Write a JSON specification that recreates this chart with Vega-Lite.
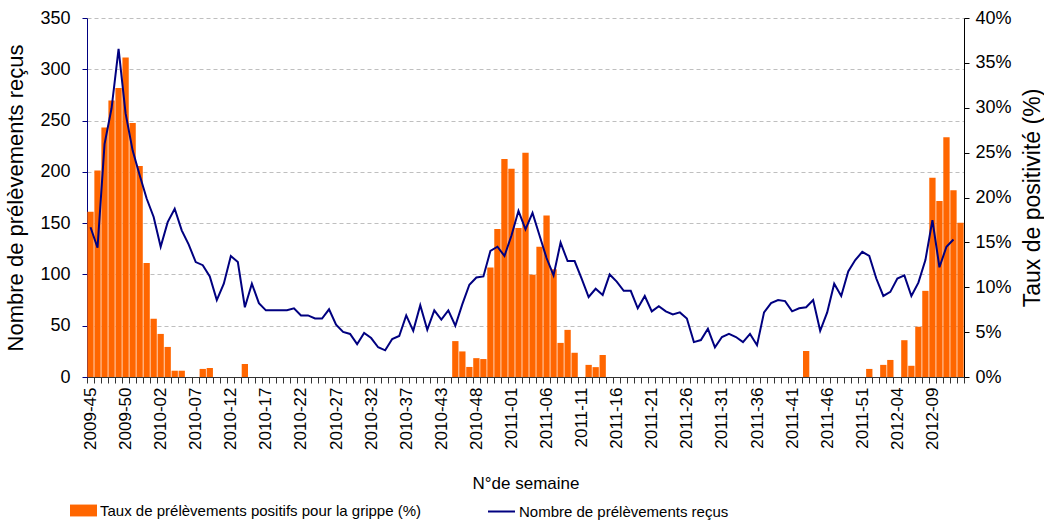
{
  "$schema": "https://vega.github.io/schema/vega-lite/v6.json",
  "width": 877,
  "height": 359,
  "autosize": {"type": "none"},
  "padding": {"left": 87, "top": 18, "right": 80, "bottom": 144},
  "background": "white",
  "config": {
    "font": "Liberation Sans",
    "view": {"stroke": null},
    "axis": {"labelColor": "black", "titleColor": "black", "titleFontWeight": "normal", "labelFont": "Liberation Sans", "titleFont": "Liberation Sans"},
    "legend": {"labelFont": "Liberation Sans", "labelColor": "black"}
  },
  "data": {
    "values": [
      {"semaine": "2009-45", "taux": 18.4, "nombre": 146},
      {"semaine": "2009-46", "taux": 23.0, "nombre": 126},
      {"semaine": "2009-47", "taux": 27.8, "nombre": 227},
      {"semaine": "2009-48", "taux": 30.8, "nombre": 262},
      {"semaine": "2009-49", "taux": 32.2, "nombre": 320},
      {"semaine": "2009-50", "taux": 35.6, "nombre": 257},
      {"semaine": "2009-51", "taux": 28.3, "nombre": 221},
      {"semaine": "2009-52", "taux": 23.5, "nombre": 197},
      {"semaine": "2009-53", "taux": 12.7, "nombre": 174},
      {"semaine": "2010-01", "taux": 6.5, "nombre": 156},
      {"semaine": "2010-02", "taux": 4.8, "nombre": 127},
      {"semaine": "2010-03", "taux": 3.35, "nombre": 151},
      {"semaine": "2010-04", "taux": 0.7, "nombre": 164},
      {"semaine": "2010-05", "taux": 0.7, "nombre": 143},
      {"semaine": "2010-06", "taux": 0, "nombre": 129},
      {"semaine": "2010-07", "taux": 0, "nombre": 112},
      {"semaine": "2010-08", "taux": 0.9, "nombre": 109},
      {"semaine": "2010-09", "taux": 1.0, "nombre": 98},
      {"semaine": "2010-10", "taux": 0, "nombre": 75},
      {"semaine": "2010-11", "taux": 0, "nombre": 91},
      {"semaine": "2010-12", "taux": 0, "nombre": 118},
      {"semaine": "2010-13", "taux": 0, "nombre": 112},
      {"semaine": "2010-14", "taux": 1.45, "nombre": 68},
      {"semaine": "2010-15", "taux": 0, "nombre": 91},
      {"semaine": "2010-16", "taux": 0, "nombre": 72},
      {"semaine": "2010-17", "taux": 0, "nombre": 65},
      {"semaine": "2010-18", "taux": 0, "nombre": 65},
      {"semaine": "2010-19", "taux": 0, "nombre": 65},
      {"semaine": "2010-20", "taux": 0, "nombre": 65},
      {"semaine": "2010-21", "taux": 0, "nombre": 67},
      {"semaine": "2010-22", "taux": 0, "nombre": 60},
      {"semaine": "2010-23", "taux": 0, "nombre": 60},
      {"semaine": "2010-24", "taux": 0, "nombre": 57},
      {"semaine": "2010-25", "taux": 0, "nombre": 57},
      {"semaine": "2010-26", "taux": 0, "nombre": 66},
      {"semaine": "2010-27", "taux": 0, "nombre": 51},
      {"semaine": "2010-28", "taux": 0, "nombre": 44},
      {"semaine": "2010-29", "taux": 0, "nombre": 42},
      {"semaine": "2010-30", "taux": 0, "nombre": 32},
      {"semaine": "2010-31", "taux": 0, "nombre": 43},
      {"semaine": "2010-32", "taux": 0, "nombre": 38},
      {"semaine": "2010-33", "taux": 0, "nombre": 29},
      {"semaine": "2010-34", "taux": 0, "nombre": 26},
      {"semaine": "2010-35", "taux": 0, "nombre": 37},
      {"semaine": "2010-36", "taux": 0, "nombre": 40},
      {"semaine": "2010-37", "taux": 0, "nombre": 60},
      {"semaine": "2010-38", "taux": 0, "nombre": 45},
      {"semaine": "2010-39", "taux": 0, "nombre": 70},
      {"semaine": "2010-41", "taux": 0, "nombre": 46},
      {"semaine": "2010-42", "taux": 0, "nombre": 65},
      {"semaine": "2010-43", "taux": 0, "nombre": 56},
      {"semaine": "2010-44", "taux": 0, "nombre": 65},
      {"semaine": "2010-45", "taux": 4.0, "nombre": 50},
      {"semaine": "2010-46", "taux": 2.85, "nombre": 71},
      {"semaine": "2010-47", "taux": 1.12, "nombre": 90},
      {"semaine": "2010-48", "taux": 2.1, "nombre": 97},
      {"semaine": "2010-49", "taux": 2.0, "nombre": 98},
      {"semaine": "2010-50", "taux": 12.2, "nombre": 123},
      {"semaine": "2010-51", "taux": 16.5, "nombre": 127},
      {"semaine": "2010-52", "taux": 24.3, "nombre": 118},
      {"semaine": "2011-01", "taux": 23.2, "nombre": 138},
      {"semaine": "2011-02", "taux": 16.6, "nombre": 162},
      {"semaine": "2011-03", "taux": 25.0, "nombre": 144},
      {"semaine": "2011-04", "taux": 11.4, "nombre": 160},
      {"semaine": "2011-05", "taux": 14.5, "nombre": 138},
      {"semaine": "2011-06", "taux": 18.0, "nombre": 116},
      {"semaine": "2011-07", "taux": 12.0, "nombre": 99},
      {"semaine": "2011-08", "taux": 3.8, "nombre": 131},
      {"semaine": "2011-09", "taux": 5.25, "nombre": 113},
      {"semaine": "2011-10", "taux": 2.7, "nombre": 113},
      {"semaine": "2011-11", "taux": 0, "nombre": 96},
      {"semaine": "2011-12", "taux": 1.35, "nombre": 78},
      {"semaine": "2011-13", "taux": 1.1, "nombre": 86},
      {"semaine": "2011-14", "taux": 2.45, "nombre": 80},
      {"semaine": "2011-15", "taux": 0, "nombre": 100},
      {"semaine": "2011-16", "taux": 0, "nombre": 93},
      {"semaine": "2011-17", "taux": 0, "nombre": 84},
      {"semaine": "2011-18", "taux": 0, "nombre": 84},
      {"semaine": "2011-19", "taux": 0, "nombre": 67},
      {"semaine": "2011-20", "taux": 0, "nombre": 79},
      {"semaine": "2011-21", "taux": 0, "nombre": 64},
      {"semaine": "2011-22", "taux": 0, "nombre": 69},
      {"semaine": "2011-23", "taux": 0, "nombre": 64},
      {"semaine": "2011-24", "taux": 0, "nombre": 61},
      {"semaine": "2011-25", "taux": 0, "nombre": 63},
      {"semaine": "2011-26", "taux": 0, "nombre": 57},
      {"semaine": "2011-27", "taux": 0, "nombre": 34},
      {"semaine": "2011-28", "taux": 0, "nombre": 36},
      {"semaine": "2011-29", "taux": 0, "nombre": 47},
      {"semaine": "2011-30", "taux": 0, "nombre": 29},
      {"semaine": "2011-31", "taux": 0, "nombre": 39},
      {"semaine": "2011-32", "taux": 0, "nombre": 42},
      {"semaine": "2011-33", "taux": 0, "nombre": 39},
      {"semaine": "2011-34", "taux": 0, "nombre": 34},
      {"semaine": "2011-35", "taux": 0, "nombre": 42},
      {"semaine": "2011-36", "taux": 0, "nombre": 31},
      {"semaine": "2011-37", "taux": 0, "nombre": 63},
      {"semaine": "2011-38", "taux": 0, "nombre": 72},
      {"semaine": "2011-39", "taux": 0, "nombre": 75},
      {"semaine": "2011-40", "taux": 0, "nombre": 74},
      {"semaine": "2011-41", "taux": 0, "nombre": 64},
      {"semaine": "2011-42", "taux": 0, "nombre": 67},
      {"semaine": "2011-43", "taux": 2.9, "nombre": 68},
      {"semaine": "2011-44", "taux": 0, "nombre": 75},
      {"semaine": "2011-45", "taux": 0, "nombre": 45},
      {"semaine": "2011-46", "taux": 0, "nombre": 63},
      {"semaine": "2011-47", "taux": 0, "nombre": 91},
      {"semaine": "2011-48", "taux": 0, "nombre": 79},
      {"semaine": "2011-49", "taux": 0, "nombre": 103},
      {"semaine": "2011-50", "taux": 0, "nombre": 114},
      {"semaine": "2011-51", "taux": 0, "nombre": 122},
      {"semaine": "2011-52", "taux": 0.9, "nombre": 118},
      {"semaine": "2012-01", "taux": 0, "nombre": 96},
      {"semaine": "2012-02", "taux": 1.35, "nombre": 79},
      {"semaine": "2012-03", "taux": 1.9, "nombre": 83},
      {"semaine": "2012-04", "taux": 0, "nombre": 96},
      {"semaine": "2012-05", "taux": 4.1, "nombre": 99},
      {"semaine": "2012-06", "taux": 1.25, "nombre": 79},
      {"semaine": "2012-07", "taux": 5.6, "nombre": 92},
      {"semaine": "2012-08", "taux": 9.6, "nombre": 114},
      {"semaine": "2012-09", "taux": 22.2, "nombre": 153},
      {"semaine": "2012-10", "taux": 19.6, "nombre": 107},
      {"semaine": "2012-11", "taux": 26.7, "nombre": 127},
      {"semaine": "2012-12", "taux": 20.8, "nombre": 134},
      {"semaine": "2012-13", "taux": 17.2, "nombre": null}
    ]
  },
  "layer": [
    {
      "mark": {"type": "bar", "color": "#FF6600"},
      "encoding": {
        "x": {
          "field": "semaine",
          "type": "ordinal",
          "sort": null,
          "scale": {"paddingInner": 0.1, "paddingOuter": 0.05},
          "axis": {
            "title": "N°de semaine",
            "titleFontSize": 17,
            "titlePadding": 26,
            "tickBand": "extent",
            "labelAngle": 270,
            "labelFontSize": 17,
            "labelPadding": 4,
            "labelOverlap": false,
            "labelExpr": "indexof(['2009-45','2009-50','2010-02','2010-07','2010-12','2010-17','2010-22','2010-27','2010-32','2010-37','2010-43','2010-48','2011-01','2011-06','2011-11','2011-16','2011-21','2011-26','2011-31','2011-36','2011-41','2011-46','2011-51','2012-04','2012-09'], datum.value) >= 0 ? datum.value : ''",
            "tickSize": 6,
            "tickColor": "#333333",
            "domainColor": "#333333",
            "grid": false
          }
        },
        "y": {
          "field": "taux",
          "type": "quantitative",
          "scale": {"domain": [0, 40], "nice": false},
          "axis": {
            "orient": "right",
            "title": "Taux de positivité (%)",
            "titleFontSize": 23,
            "titleAngle": 270,
            "titleBaseline": "top",
            "titlePadding": 10,
            "values": [0, 5, 10, 15, 20, 25, 30, 35, 40],
            "labelExpr": "datum.value + '%'",
            "labelFontSize": 18,
            "labelPadding": 6,
            "tickSize": 5,
            "tickColor": "black",
            "domainColor": "black",
            "grid": false
          }
        },
        "fill": {
          "datum": "Taux de prélèvements positifs pour la grippe (%)",
          "type": "nominal",
          "scale": {"range": ["#FF6600"]},
          "legend": {
            "title": null,
            "orient": "none",
            "legendX": -17,
            "legendY": 479,
            "padding": 0,
            "symbolType": "M-1,-0.44L1,-0.44L1,0.44L-1,0.44Z",
            "symbolSize": 729,
            "symbolStrokeWidth": 0,
            "labelFontSize": 15,
            "labelOffset": 3,
            "labelLimit": 600
          }
        }
      }
    },
    {
      "mark": {"type": "line", "strokeWidth": 2},
      "encoding": {
        "x": {"field": "semaine", "type": "ordinal", "sort": null},
        "y": {
          "field": "nombre",
          "type": "quantitative",
          "scale": {"domain": [0, 350], "nice": false},
          "axis": {
            "orient": "left",
            "title": "Nombre de prélèvements reçus",
            "titleFontSize": 22,
            "titlePadding": 12,
            "values": [0, 50, 100, 150, 200, 250, 300, 350],
            "labelFontSize": 18,
            "labelPadding": 12,
            "tickSize": 5,
            "tickColor": "#000080",
            "domainColor": "#000080",
            "grid": true,
            "gridDash": [4, 3],
            "gridColor": "#BFBFBF"
          }
        },
        "stroke": {
          "datum": "Nombre de prélèvements reçus",
          "type": "nominal",
          "scale": {"range": ["#000080"]},
          "legend": {
            "title": null,
            "orient": "none",
            "legendX": 400,
            "legendY": 479,
            "padding": 0,
            "symbolType": "stroke",
            "symbolSize": 729,
            "symbolStrokeWidth": 2,
            "labelFontSize": 15,
            "labelOffset": 3,
            "labelLimit": 600
          }
        }
      }
    }
  ],
  "resolve": {"scale": {"y": "independent"}}
}
